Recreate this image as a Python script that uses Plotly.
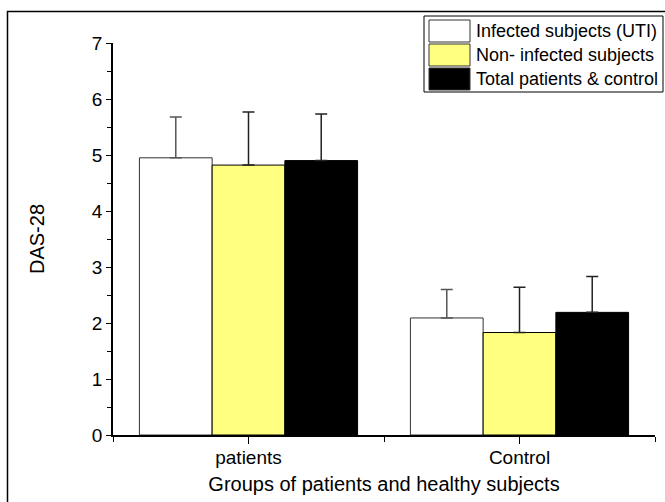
import plotly.graph_objects as go

groups = ["patients", "Control"]
group_pos = [0, 1]
series_names = ["Infected subjects (UTI)", "Non- infected subjects", "Total patients & control"]
means = {
    "Infected subjects (UTI)": [4.95, 2.09],
    "Non- infected subjects": [4.82, 1.83],
    "Total patients & control": [4.90, 2.19],
}
errors = {
    "Infected subjects (UTI)": [0.73, 0.51],
    "Non- infected subjects": [0.95, 0.81],
    "Total patients & control": [0.83, 0.64],
}
fills = ["#FFFFFF", "#FFFF80", "#000000"]
outlines = ["#333333", "#000000", "#000000"]
err_colors = ["#555555", "#222222", "#222222"]

FONT = "Liberation Sans, Arial, sans-serif"
W, H = 665, 502
L, R, T, B = 113, 10, 43, 67
pw, ph = W - L - R, H - T - B

def px(x):
    return (x - L) / pw

def py(y):
    return (H - B - y) / ph

fig = go.Figure()
for i, name in enumerate(series_names):
    fig.add_trace(go.Bar(
        x=group_pos, y=means[name], name=name,
        marker=dict(color=fills[i], line=dict(color=outlines[i], width=1)),
        error_y=dict(type="data", array=errors[name], arrayminus=[0, 0],
                     symmetric=False, color=err_colors[i], thickness=1.5, width=6),
        showlegend=False,
    ))

shapes = []
annotations = []
# outer frame
shapes.append(dict(type="rect", xref="paper", yref="paper",
                   x0=px(7.5), x1=px(680), y0=py(520), y1=py(11.5),
                   line=dict(color="#000000", width=1.5), fillcolor="rgba(0,0,0,0)", layer="below"))
# legend box
row_h = 24
shapes.append(dict(type="rect", xref="paper", yref="paper",
                   x0=px(424), x1=px(663), y0=py(92), y1=py(16),
                   line=dict(color="#000000", width=1), fillcolor="#FFFFFF"))
for i, name in enumerate(series_names):
    c = 31 + row_h * i
    shapes.append(dict(type="rect", xref="paper", yref="paper",
                       x0=px(429), x1=px(470), y0=py(c + 11), y1=py(c - 11),
                       line=dict(color="#333333", width=1), fillcolor=fills[i]))
    annotations.append(dict(xref="paper", yref="paper", x=px(474), y=py(c),
                            text=name, showarrow=False, xanchor="left", yanchor="middle",
                            font=dict(family=FONT, size=18, color="#000000")))

fig.update_layout(
    width=W, height=H,
    margin=dict(l=L, r=R, t=T, b=B),
    paper_bgcolor="#FFFFFF", plot_bgcolor="#FFFFFF",
    barmode="group", bargap=0.195, bargroupgap=0,
    font=dict(family=FONT, color="#000000"),
    shapes=shapes, annotations=annotations,
    xaxis=dict(
        range=[-0.5, 1.5], tickvals=group_pos, ticktext=groups,
        ticks="outside", ticklen=7, tickwidth=1.2, tickcolor="#000000",
        minor=dict(tickvals=[-0.5, 0.5, 1.5], ticks="outside", ticklen=5,
                   tickwidth=1.2, tickcolor="#000000"),
        showline=True, linecolor="#000000", linewidth=1.5,
        showgrid=False, zeroline=False,
        tickfont=dict(family=FONT, size=19),
        ticklabelstandoff=-3,
        title=dict(text="Groups of patients and healthy subjects",
                   font=dict(family=FONT, size=20), standoff=10),
    ),
    yaxis=dict(
        range=[0, 7], dtick=1, tick0=0,
        ticks="outside", ticklen=5, tickwidth=1.2, tickcolor="#000000",
        minor=dict(dtick=0.5, ticks="outside", ticklen=4, tickwidth=1.2, tickcolor="#000000"),
        showline=True, linecolor="#000000", linewidth=1.5,
        showgrid=False, zeroline=False,
        tickfont=dict(family=FONT, size=19),
        title=dict(text="DAS-28", font=dict(family=FONT, size=20), standoff=42),
    ),
)

fig.write_html(
    "out.html",
    config={"displayModeBar": False},
    post_script="document.body.style.margin='0';document.body.style.overflow='hidden';",
)
